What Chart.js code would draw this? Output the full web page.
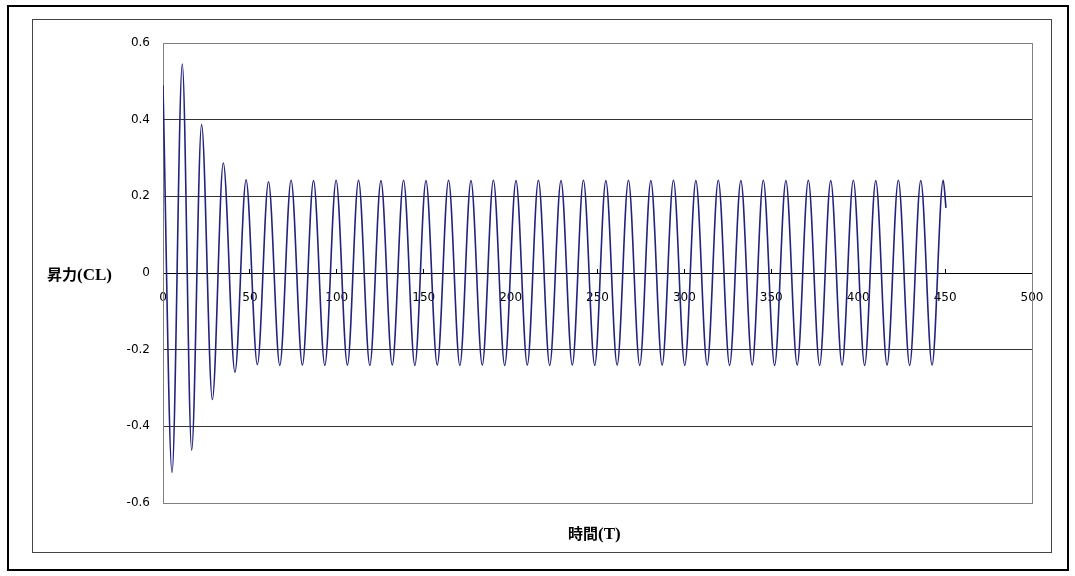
<!DOCTYPE html>
<html>
<head>
<meta charset="utf-8">
<script src="https://cdn.jsdelivr.net/npm/chart.js@4/dist/chart.umd.min.js"></script>
<style>
    body { margin: 0; background: #fff; }
    #wrap { position: relative; width: 1075px; height: 576px; }
    #outer { position: absolute; left: 7px; top: 5px; width: 1058px; height: 562px; border: 2px solid #000; }
    #inner { position: absolute; left: 32px; top: 19px; width: 1018px; height: 532px; border: 1px solid #444; }
    canvas { position: absolute; left: 0; top: 0; }
    .axis-title { position: absolute; font: bold 15px "Noto Sans CJK JP", sans-serif; line-height: 20px; height: 20px; color: #000; white-space: nowrap; }
    .axis-title span { font: bold 17px "Liberation Serif", serif; }
</style>
</head>
<body>
<div id="wrap">
    <div id="outer"></div>
    <div id="inner"></div>
    <canvas id="liftChart" width="1075" height="576"></canvas>
    <div class="axis-title" id="yTitle" style="left:47px; top:264px;">昇力<span>(CL)</span></div>
    <div class="axis-title" id="xTitle" style="left:568px; top:523px;">時間<span>(T)</span></div>
</div>
<script>
// turning points of the lift curve (start, troughs/peaks, end)
const timeT = [0, 5.2, 11.1, 16.5, 22.2, 28.4, 34.7, 41.4,
    47.8, 54.3, 60.7, 67.2, 73.7, 80.2, 86.6, 93.1, 99.6, 106.1,
    112.5, 119.0, 125.4, 131.9, 138.4, 144.9, 151.3, 157.8, 164.3, 170.8,
    177.2, 183.7, 190.1, 196.6, 203.1, 209.6, 216.0, 222.5, 229.0, 235.5,
    241.9, 248.4, 254.8, 261.3, 267.8, 274.3, 280.7, 287.2, 293.7, 300.2,
    306.6, 313.1, 319.5, 326.0, 332.5, 339.0, 345.4, 351.9, 358.4, 364.9,
    371.3, 377.8, 384.2, 390.7, 397.2, 403.7, 410.1, 416.6, 423.1, 429.6,
    436.0, 442.5, 448.9, 450.5];
const liftCL = [0.49, -0.52, 0.545, -0.462, 0.387, -0.33, 0.287, -0.259,
    0.243, -0.239, 0.238, -0.241, 0.242, -0.240, 0.241, -0.241, 0.242, -0.240,
    0.242, -0.241, 0.241, -0.240, 0.242, -0.241, 0.241, -0.240, 0.242, -0.241,
    0.241, -0.240, 0.242, -0.241, 0.241, -0.240, 0.242, -0.241, 0.241, -0.240,
    0.242, -0.241, 0.241, -0.240, 0.242, -0.241, 0.241, -0.240, 0.242, -0.241,
    0.241, -0.240, 0.242, -0.241, 0.241, -0.240, 0.242, -0.241, 0.241, -0.240,
    0.242, -0.241, 0.241, -0.240, 0.242, -0.241, 0.241, -0.240, 0.242, -0.241,
    0.241, -0.240, 0.242, 0.17];
const xTicks = [0, 50, 100, 150, 200, 250, 300, 350, 400, 450, 500];
const yTicks = [-0.6, -0.4, -0.2, 0, 0.2, 0.4, 0.6];

const points = timeT.map((t, i) => ({ x: t, y: liftCL[i] }));

const plotFrame = {
    id: 'plotFrame',
    beforeDatasetsDraw(chart) {
        const a = chart.chartArea;
        const ctx = chart.ctx;
        ctx.save();
        ctx.strokeStyle = '#808080';
        ctx.lineWidth = 1;
        ctx.strokeRect(a.left + 0.5, a.top + 0.5, a.right - a.left, a.bottom - a.top);
        ctx.restore();
    }
};

new Chart(document.getElementById('liftChart'), {
    type: 'line',
    data: {
        datasets: [{
            label: '昇力(CL)',
            data: points,
            borderColor: '#23237c',
            borderWidth: 1.6,
            pointRadius: 0,
            fill: false,
            cubicInterpolationMode: 'monotone'
        }]
    },
    options: {
        responsive: false,
        animation: false,
        layout: { padding: { left: 0, top: 43, right: 43, bottom: 73 } },
        plugins: {
            legend: { display: false },
            tooltip: { enabled: false }
        },
        scales: {
            x: {
                type: 'linear',
                position: { y: 0 },
                min: 0,
                max: 500,
                afterBuildTicks: scale => { scale.ticks = xTicks.map(v => ({ value: v })); },
                grid: { drawOnChartArea: false, drawTicks: true, tickLength: -5, color: '#000' },
                border: { color: '#000', width: 1 },
                ticks: { color: '#000', padding: 23, maxRotation: 0, font: { family: 'DejaVu Sans', size: 12 } }
            },
            y: {
                min: -0.6,
                max: 0.6,
                afterBuildTicks: scale => { scale.ticks = yTicks.map(v => ({ value: v })); },
                afterFit: scale => { scale.width = 163; },
                grid: {
                    drawTicks: false,
                    color: ctx => (Math.abs(ctx.tick.value) > 0.55 ? '#808080' : '#333')
                },
                border: { color: '#000', width: 1 },
                ticks: {
                    color: '#000',
                    padding: 13,
                    font: { family: 'DejaVu Sans', size: 12 },
                    callback: v => String(Math.round(v * 10) / 10)
                }
            }
        }
    },
    plugins: [plotFrame]
});
</script>
</body>
</html>
